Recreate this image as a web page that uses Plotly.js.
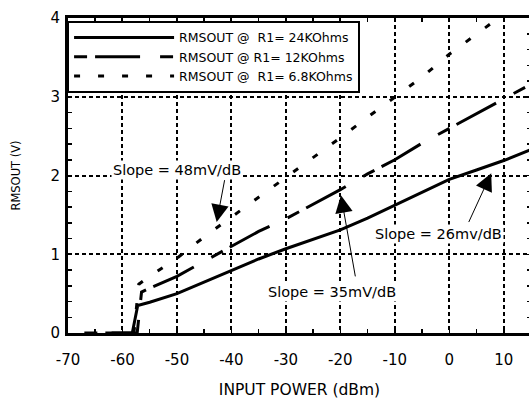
<!DOCTYPE html>
<html>
<head>
<meta charset="utf-8">
<script src="https://cdn.plot.ly/plotly-3.0.1.min.js"></script>
<style>
  html, body { margin: 0; padding: 0; overflow: hidden; background: #fff; }
  #chart { width: 532px; height: 400px; }
</style>
</head>
<body>
<div id="chart"></div>
<script>
// Input power (dBm) and RMSOUT (V)
const x24k = [-62, -58.2, -57.2, -55, -50, -45, -40, -35, -30, -25, -20, -15, -10, -5, 0, 5, 10, 15];
const y24k = [0, 0, 0.35, 0.39, 0.50, 0.65, 0.80, 0.94, 1.07, 1.19, 1.31, 1.46, 1.62, 1.79, 1.95, 2.07, 2.19, 2.33];

const x12k = [-67, -57.3, -56.5, -55, -50, -45, -40, -35, -30, -25, -20, -15, -10, -5, 0, 5, 10, 15];
const y12k = [0, 0, 0.52, 0.57, 0.72, 0.91, 1.10, 1.29, 1.45, 1.63, 1.82, 2.02, 2.20, 2.41, 2.60, 2.79, 2.98, 3.16];

const x68k = [-57.9, -57.0, -55, -50, -45, -40, -35, -30, -25, -20, -15, -10, -5, 0, 5, 10];
const y68k = [0, 0.62, 0.72, 0.95, 1.22, 1.47, 1.72, 1.98, 2.23, 2.48, 2.74, 2.99, 3.25, 3.54, 3.79, 4.05];

const seriesNames = ["RMSOUT @\u00a0\u00a0R1= 24KOhms", "RMSOUT @ R1= 12KOhms", "RMSOUT @\u00a0\u00a0R1= 6.8KOhms"];

const xTicks = [-70, -60, -50, -40, -30, -20, -10, 0, 10];
const yTicks = [0, 1, 2, 3, 4];

const slopeLabels = ["Slope = 48mV/dB", "Slope = 35mV/dB", "Slope = 26mv/dB"];
// label centres and arrow tail/tip positions in data units
const labelX = [-50, -21.6, -1.9];
const labelY = [2.07, 0.525, 1.26];
const arrowTailX = [-41.2, -17.2, 3.45];
const arrowTailY = [1.96, 0.70, 1.39];
const arrowTipX = [-42.7, -19.9, 7.7];
const arrowTipY = [1.41, 1.75, 2.03];

const FONT = "DejaVu Sans, Arial, sans-serif";

const traces = [
  { x: x24k, y: y24k, name: seriesNames[0], mode: "lines",
    line: { color: "#000", width: 3 } },
  { x: x12k, y: y12k, name: seriesNames[1], mode: "lines",
    line: { color: "#000", width: 3, dash: "13px,8px,45px,20px" } },
  { x: x68k, y: y68k, name: seriesNames[2], mode: "lines",
    line: { color: "#000", width: 3, dash: "6px,18px" } }
];

const annotations = [];
for (let i = 0; i < slopeLabels.length; i++) {
  annotations.push({
    x: labelX[i], y: labelY[i], xref: "x", yref: "y",
    text: slopeLabels[i], showarrow: false,
    font: { family: FONT, size: 14.5, color: "#000" },
    bgcolor: "#fff", borderpad: 1
  });
  annotations.push({
    x: arrowTipX[i], y: arrowTipY[i], xref: "x", yref: "y",
    ax: arrowTailX[i], ay: arrowTailY[i], axref: "x", ayref: "y",
    text: "", showarrow: true, arrowhead: 2, arrowsize: 3.5, arrowwidth: 1,
    arrowcolor: "#000", standoff: 0, startstandoff: 0
  });
}

const layout = {
  width: 532, height: 400,
  margin: { l: 68, r: 1, t: 18, b: 67, pad: 0 },
  paper_bgcolor: "#fff", plot_bgcolor: "#fff",
  font: { family: FONT, color: "#000" },
  showlegend: true,
  legend: {
    x: -0.002, y: 0.991, xanchor: "left", yanchor: "top",
    bgcolor: "#fff", bordercolor: "#000", borderwidth: 2,
    font: { family: FONT, size: 12.5, color: "#000" },
    itemwidth: 100, tracegroupgap: 0
  },
  xaxis: {
    range: [-70, 15], tickmode: "array", tickvals: xTicks,
    ticktext: xTicks.map(String),
    ticks: "inside", ticklen: 4, tickwidth: 1.5, tickcolor: "#000",
    minor: { dtick: 5, tick0: 0, ticks: "inside", ticklen: 4, tickwidth: 1.5, tickcolor: "#000", showgrid: false },
    showline: true, linecolor: "#000", linewidth: 3, mirror: "allticks",
    showgrid: true, gridcolor: "#000", gridwidth: 2, griddash: "4px,3px",
    zeroline: false, automargin: false,
    tickfont: { family: FONT, size: 15, color: "#000" },
    ticklabelstandoff: 11,
    title: { text: "INPUT POWER (dBm)", font: { family: FONT, size: 15.5, color: "#000" }, standoff: 17 }
  },
  yaxis: {
    range: [0, 4], tickmode: "array", tickvals: yTicks,
    ticktext: yTicks.map(String),
    ticks: "inside", ticklen: 4, tickwidth: 1.5, tickcolor: "#000",
    minor: { dtick: 0.2, tick0: 0, ticks: "inside", ticklen: 4, tickwidth: 1.5, tickcolor: "#000", showgrid: false },
    showline: true, linecolor: "#000", linewidth: 3, mirror: "allticks",
    showgrid: true, gridcolor: "#000", gridwidth: 2, griddash: "4px,3px",
    zeroline: false, automargin: false,
    tickfont: { family: FONT, size: 15, color: "#000" },
    ticklabelstandoff: 2,
    title: { text: "RMSOUT (V)", font: { family: FONT, size: 11.5, color: "#000" }, standoff: 28 }
  },
  annotations: annotations
};

Plotly.newPlot("chart", traces, layout, { staticPlot: true, displayModeBar: false });
</script>
</body>
</html>
